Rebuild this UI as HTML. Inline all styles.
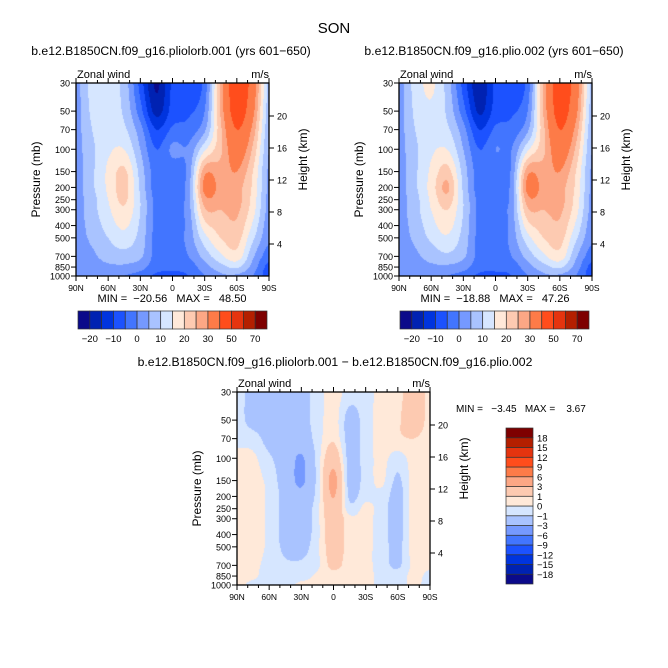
<!DOCTYPE html>
<html><head><meta charset="utf-8">
<style>
html,body{margin:0;padding:0;background:#fff;}
#wrap{position:relative;width:668px;height:668px;overflow:hidden;font-family:"Liberation Sans",sans-serif;}
canvas{position:absolute;}
svg{position:absolute;left:0;top:0;}
text{font-family:"Liberation Sans",sans-serif;fill:#000;white-space:pre;}
</style></head>
<body>
<div id="wrap">
<svg id="ov" width="668" height="668"></svg>
</div>
<script>
// ---- data ----
const lats = [90,75,60,45,30,15,0,-15,-30,-45,-60,-75,-90];
const latTicks = ["90N","60N","30N","0","30S","60S","90S"];
const presLevels = [30,50,70,100,150,200,250,300,400,500,700,850,1000];
const presTicks = [30,50,70,100,150,200,250,300,400,500,700,850,1000];
const heightTicks = [4,8,12,16,20];
const u1 = [
 [3,12,12,8,-7,-21,-9,-8,-3,27,47,35,8],
 [3,11,12,9,-3,-17,-8,-6,0,26,45,32,7],
 [3,10,12,11,2,-10,-4,-3,4,24,40,28,6],
 [3,9,14,15,5,-5,1,1,14,24,35,24,5],
 [3,9,16,21,8,-3,-3,2,28,27,30,20,4],
 [3,9,16,22,9,-3,-3,3,32,28,27,19,4],
 [3,8,15,21,10,-2,-3,3,28,27,27,18,3],
 [3,8,14,19,10,-2,-3,3,24,25,26,17,3],
 [3,7,12,16,9,-2,-3,2,18,22,24,14,2],
 [3,6,10,13,8,-2,-3,2,13,20,22,11,1],
 [2,4,7,8,6,-2,-3,0,7,14,18,6,-3],
 [2,3,4,4,2,-3,-4,-3,3,8,11,3,-7],
 [2,2,2,0,-2,-6,-6,-5,0,4,4,0,-8]
];
const u2 = [
 [3,12,16,8,-7,-19,-9,-8,-3,27,46,35,8],
 [3,11,14,9,-3,-16,-8,-6,0,26,44,32,7],
 [3,10,12,11,2,-10,-4,-3,4,24,40,28,6],
 [3,9,14,15,5,-5,0,0,14,24,35,24,5],
 [3,9,16,22,8,-3,-4,1,28,27,30,20,4],
 [3,9,17,26,9,-3,-4,2,32,28,27,19,4],
 [3,8,16,23,10,-2,-4,2,28,27,27,18,3],
 [3,8,15,20,10,-2,-4,3,24,25,26,17,3],
 [3,7,13,17,9,-2,-4,2,18,22,24,14,2],
 [3,6,11,14,8,-2,-4,2,13,20,22,11,1],
 [2,4,7,9,6,-2,-4,0,7,14,18,6,-3],
 [2,3,4,4,2,-3,-4,-3,3,8,11,3,-7],
 [2,2,2,0,-2,-6,-6,-5,0,4,4,0,-8]
];
const diff = [
 [-0.5,-1.5,-1.5,-1.5,-1.5,-0.5,0.5,-0.5,-0.5,0.5,0.5,2,0.5],
 [-0.5,-1.5,-1.5,-1.8,-1.5,-0.5,0.5,-1.5,-0.5,0.5,0.8,2,0.5],
 [-0.3,-0.5,-1.5,-1.8,-2,-0.5,0.8,-1.5,-0.5,0.5,0.8,1,0.5],
 [0.3,0.2,-0.8,-1.8,-3.2,-0.6,2.2,-1.5,-0.5,0.3,-0.5,0.5,0.5],
 [0.3,0.3,-0.3,-1.8,-3.3,-0.6,3.6,-1.5,-0.5,0.2,-1.2,0.5,0.5],
 [0.3,0.3,-0.2,-1.5,-2.5,-0.5,3.1,-1.2,-0.3,-0.3,-1.5,0.5,0.5],
 [0.3,0.3,-0.2,-1.5,-2,-0.3,2.4,-0.6,0.3,-0.5,-1.5,0.5,0.5],
 [0.3,0.3,-0.2,-1.5,-2,-0.3,2.2,0.3,0.3,-0.5,-1.5,0.5,0.5],
 [0.3,0.3,-0.2,-1.5,-1.8,-0.3,2,0.4,0.3,-0.5,-1.5,0.5,0.5],
 [0.3,0.3,-0.2,-1.3,-1.5,-0.2,1.8,0.5,0.3,-0.5,-1.3,0.5,0.5],
 [0.3,0.2,-0.3,-0.8,-0.8,-0.2,1.4,0.4,0.3,-0.5,-1.2,0.3,0.2],
 [0.3,0.2,-0.5,-0.5,-0.5,0.2,0.5,0.3,0.3,-0.3,-0.5,0.3,-0.3],
 [0.3,-0.3,-0.5,-0.5,0.3,0.3,0.3,0.3,0.3,-0.3,-0.5,0.3,-0.5]
];
const levelsAbs = [-20,-15,-10,-5,0,5,10,15,20,25,30,40,50,60,70];
const labelsAbs = ["\u221220","\u221210","0","10","20","30","50","70"];
const levelsDiff = [-18,-15,-12,-9,-6,-3,-1,0,1,3,6,9,12,15,18];
const labelsDiff = ["18","15","12","9","6","3","1","0","\u22121","\u22123","\u22126","\u22129","\u221212","\u221215","\u221218"];
const palette = ["#0b0a8a","#0022b2","#0034de","#1c52ff","#4275ff","#7599ff","#a9c3ff","#d6e6ff","#ffe9d9","#fdcab1","#fca785","#fd7b48","#ff4d1c","#e5340f","#b41f00","#7e0000"];

// ---- geometry ----
const W=193,H=193;
const NS="http://www.w3.org/2000/svg";
const ov=document.getElementById('ov');
const wrap=document.getElementById('wrap');
const lnP0=Math.log(30), lnP1=Math.log(1000);
function yOfP(p){return (Math.log(p)-lnP0)/(lnP1-lnP0)*H;}
function xOfLat(l){return (90-l)/180*W;}
function el(tag,attrs,txt){const e=document.createElementNS(NS,tag);for(const k in attrs)e.setAttribute(k,attrs[k]);if(txt!==undefined)e.textContent=txt;ov.appendChild(e);return e;}
function cr(p0,p1,p2,p3,t){return 0.5*((2*p1)+(-p0+p2)*t+(2*p0-5*p1+4*p2-p3)*t*t+(-p0+3*p1-3*p2+p3)*t*t*t);}
function g(data,j,i){j=Math.max(0,Math.min(data.length-1,j));i=Math.max(0,Math.min(data[0].length-1,i));return data[j][i];}
function sample(data,lat,p){
  let i=0; while(i<lats.length-2 && lat<lats[i+1]) i++;
  let fx=(lats[i]-lat)/(lats[i]-lats[i+1]);
  let lp=Math.log(p), j=0;
  while(j<presLevels.length-2 && p>presLevels[j+1]) j++;
  let fy=(lp-Math.log(presLevels[j]))/(Math.log(presLevels[j+1])-Math.log(presLevels[j]));
  fx=Math.max(0,Math.min(1,fx)); fy=Math.max(0,Math.min(1,fy));
  const rows=[];
  for(let dj=-1;dj<=2;dj++){rows.push(cr(g(data,j+dj,i-1),g(data,j+dj,i),g(data,j+dj,i+1),g(data,j+dj,i+2),fx));}
  return cr(rows[0],rows[1],rows[2],rows[3],fy);
}
function colorIdx(v,lev){let k=0;while(k<lev.length&&v>=lev[k])k++;return k;}
function hexRgb(h){return [parseInt(h.substr(1,2),16),parseInt(h.substr(3,2),16),parseInt(h.substr(5,2),16)];}

function panel(ox,oy,data,lev,name){
  const cv=document.createElement('canvas');
  
  
  cv.width=W;cv.height=H;cv.style.left=ox+'px';cv.style.top=oy+'px';
  wrap.insertBefore(cv,ov);
  const ctx=cv.getContext('2d');const img=ctx.createImageData(W,H);
  for(let y=0;y<H;y++){const p=Math.exp(lnP0+(y+0.5)/H*(lnP1-lnP0));
    for(let x=0;x<W;x++){const lat=90-(x+0.5)/W*180;
      const rgb=hexRgb(palette[colorIdx(sample(data,lat,p),lev)]);
      const o=(y*W+x)*4;img.data[o]=rgb[0];img.data[o+1]=rgb[1];img.data[o+2]=rgb[2];img.data[o+3]=255;}}
  ctx.putImageData(img,0,0);
  const fr=el('rect',{x:ox,y:oy,width:W,height:H,fill:'none',stroke:'#000','stroke-width':1.3});
  
  
  for(let l=90;l>=-90;l-=10){const x=ox+xOfLat(l);const major=(l%30===0);const len=major?5:3;
    el('line',{x1:x,y1:oy+H,x2:x,y2:oy+H+len,stroke:'#000','stroke-width':1});
    el('line',{x1:x,y1:oy,x2:x,y2:oy-len,stroke:'#000','stroke-width':1});}
  latTicks.forEach((t,k)=>{const x=ox+k*W/6;const tx=el('text',{x:x,y:oy+H+15,'font-size':8.5,'text-anchor':'middle'},t);
    
    });
  presTicks.forEach(p=>{const y=oy+yOfP(p);
    el('line',{x1:ox,y1:y,x2:ox-5,y2:y,stroke:'#000','stroke-width':1});
    const tx=el('text',{x:ox-6,y:y+3.5,'font-size':9,'text-anchor':'end'},String(p));
    
    });
  heightTicks.forEach(z=>{const p=1000*Math.exp(-z/6.88);const y=oy+yOfP(p);
    el('line',{x1:ox+W,y1:y,x2:ox+W+5,y2:y,stroke:'#000','stroke-width':1});
    const tx=el('text',{x:ox+W+8,y:y+3.5,'font-size':9},String(z));
    
    });
  let t=el('text',{x:ox+1,y:oy-5,'font-size':11},'Zonal wind');
   
  t=el('text',{x:ox+W,y:oy-5,'font-size':11,'text-anchor':'end'},'m/s');
   
  t=el('text',{x:0,y:0,'font-size':12,'text-anchor':'middle',transform:`translate(${ox-36},${oy+H/2}) rotate(-90)`},'Pressure (mb)');
   
  t=el('text',{x:0,y:0,'font-size':12,'text-anchor':'middle',transform:`translate(${ox+W+38},${oy+H/2-20}) rotate(-90)`},'Height (km)');
   
}

function hbar(x0,y0,w,h,name,labels){
  const bw=w/16;
  palette.forEach((c,k)=>{const r=el('rect',{x:x0+k*bw,y:y0,width:bw,height:h,fill:c,stroke:'#333','stroke-width':0.7});
     });
  labels.forEach((s,k)=>{const x=x0+(2*k+1)*bw;const t=el('text',{x:x,y:y0+h+13,'font-size':9.5,'text-anchor':'middle'},s);
     });
}
function vbar(x0,y0,w,h,name,labels){
  const bh=h/16;
  palette.forEach((c,k)=>{const r=el('rect',{x:x0,y:y0+(15-k)*bh,width:w,height:bh,fill:c,stroke:'#333','stroke-width':0.7});
     });
  labels.forEach((s,k)=>{const y=y0+(k+1)*bh;const t=el('text',{x:x0+w+4,y:y+3.5,'font-size':9.5},s);
     });
}

panel(76,83,u1,levelsAbs,'plot-pliolorb');
panel(399,83,u2,levelsAbs,'plot-plio');
panel(237,392,diff,levelsDiff,'plot-difference');
hbar(78,311,189,18,'colorbar-left',labelsAbs);
hbar(400,311,189,18,'colorbar-right',labelsAbs);
vbar(506,428,27,156,'colorbar-diff',labelsDiff);

let t;
t=el('text',{x:334,y:33,'font-size':15,'text-anchor':'middle'},'SON');
 
t=el('text',{x:171,y:55,'font-size':12.2,'text-anchor':'middle'},'b.e12.B1850CN.f09_g16.pliolorb.001 (yrs 601\u2212650)');
 
t=el('text',{x:494,y:55,'font-size':12.2,'text-anchor':'middle'},'b.e12.B1850CN.f09_g16.plio.002 (yrs 601\u2212650)');
 
t=el('text',{x:335,y:366,'font-size':12.2,'text-anchor':'middle'},'b.e12.B1850CN.f09_g16.pliolorb.001 \u2212 b.e12.B1850CN.f09_g16.plio.002');
 
t=el('text',{x:172,y:302,'font-size':11,'text-anchor':'middle'},'MIN =  \u221220.56   MAX =   48.50');
 
t=el('text',{x:495,y:302,'font-size':11,'text-anchor':'middle'},'MIN =  \u221218.88   MAX =   47.26');
 
t=el('text',{x:456,y:412,'font-size':10}, 'MIN =   \u22123.45   MAX =    3.67');
 
</script>
</body></html>
